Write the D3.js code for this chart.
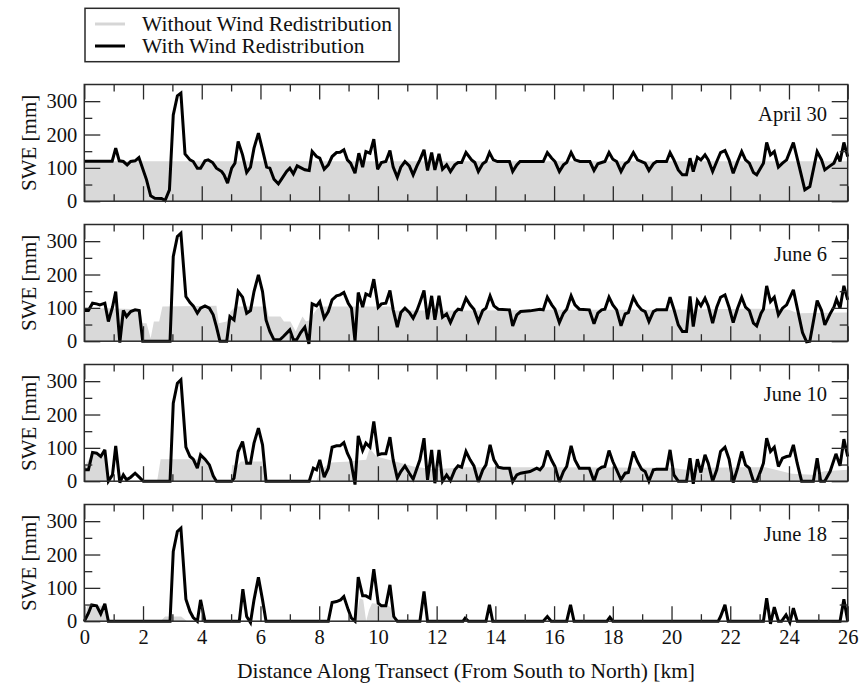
<!DOCTYPE html>
<html><head><meta charset="utf-8">
<script src="https://cdn.jsdelivr.net/npm/d3@7"></script>
<style>
body{margin:0;background:#fff}
svg{display:block}
text{font-family:"Liberation Serif","Times New Roman",serif;fill:#111}
</style>
</head><body><svg id="c" width="860" height="693"></svg>
<script>
// ---------- data ----------
const panelLabels = ["April 30", "June 6", "June 10", "June 18"];
const seriesNames = ["Without Wind Redistribution", "With Wind Redistribution"];
const xTickValues = [0,2,4,6,8,10,12,14,16,18,20,22,24,26];
const xMinorTicks = [1,3,5,7,9,11,13,15,17,19,21,23,25];
const yTickValues = [0,100,200,300];
const yMinorTicks = [50,150,250];

// [km, SWE mm]
const aprWithout = [[0,120],[26,120]];
const aprWith = [[0,120],[0.95,120],[1.07,159],[1.19,121],[1.33,119],[1.46,109],[1.58,119],[1.73,121],[1.86,131],[2.12,64],[2.26,16],[2.4,9],[2.63,8],[2.75,2],[2.9,34],[3.03,259],[3.17,316],[3.29,324],[3.43,142],[3.6,124],[3.71,119],[3.85,99],[3.96,99],[4.11,121],[4.22,124],[4.37,116],[4.5,99],[4.68,89],[4.76,79],[4.88,54],[5.02,99],[5.13,114],[5.24,179],[5.39,139],[5.53,86],[5.66,102],[5.78,159],[5.93,204],[6.07,154],[6.21,102],[6.32,99],[6.46,66],[6.61,52],[6.74,69],[6.89,89],[7.0,99],[7.12,82],[7.25,106],[7.4,99],[7.51,94],[7.66,92],[7.76,149],[7.91,134],[8.02,129],[8.17,96],[8.31,109],[8.44,134],[8.59,146],[8.71,147],[8.84,154],[8.96,124],[9.07,114],[9.22,84],[9.35,144],[9.48,102],[9.59,149],[9.73,144],[9.86,186],[9.99,96],[10.12,116],[10.27,119],[10.41,152],[10.52,102],[10.66,72],[10.78,102],[10.92,119],[11.07,106],[11.2,79],[11.33,106],[11.43,124],[11.57,154],[11.69,92],[11.83,146],[11.94,94],[12.08,142],[12.2,96],[12.34,109],[12.47,89],[12.62,109],[12.73,116],[12.85,116],[13.0,146],[13.19,124],[13.3,116],[13.42,89],[13.57,112],[13.68,119],[13.8,146],[13.93,124],[14.07,119],[14.48,119],[14.59,89],[14.73,109],[14.84,119],[15.63,119],[15.77,146],[15.92,129],[16.03,119],[16.18,89],[16.32,109],[16.43,116],[16.58,146],[16.71,124],[16.88,119],[17.22,119],[17.36,92],[17.49,112],[17.62,116],[17.73,119],[17.87,146],[18.0,126],[18.13,119],[18.28,89],[18.42,112],[18.53,119],[18.7,146],[18.84,124],[18.98,119],[19.1,114],[19.23,92],[19.38,112],[19.49,119],[19.83,119],[19.95,146],[20.08,124],[20.23,94],[20.37,79],[20.51,79],[20.63,129],[20.74,89],[20.88,132],[21.0,124],[21.14,139],[21.25,124],[21.4,89],[21.54,119],[21.67,146],[21.82,152],[21.96,124],[22.1,84],[22.25,119],[22.39,149],[22.52,124],[22.65,114],[22.79,86],[22.9,79],[23.05,102],[23.13,114],[23.24,176],[23.37,139],[23.5,149],[23.64,102],[23.78,114],[23.92,124],[24.15,176],[24.35,104],[24.54,34],[24.71,44],[24.96,149],[25.11,124],[25.22,94],[25.4,106],[25.53,114],[25.65,139],[25.74,119],[25.87,176],[26.0,134]];

const jun6Without = [[0,96],[0.7,99],[1.9,96],[1.98,54],[2.12,54],[2.26,9],[2.37,59],[2.55,59],[2.66,104],[4.5,106],[4.58,54],[4.85,59],[4.98,89],[5.15,104],[6.2,104],[6.28,74],[6.68,74],[6.8,59],[7.02,59],[7.2,29],[7.3,49],[7.43,74],[7.55,59],[7.72,64],[7.82,84],[7.94,99],[8.16,104],[10.4,104],[10.6,92],[12.8,92],[16,94],[20,94],[22.5,97],[23.5,97],[24.0,94],[24.3,84],[26,86]];
const jun6With = [[0,92],[0.14,92],[0.28,114],[0.42,112],[0.53,109],[0.7,114],[0.82,59],[0.96,102],[1.07,149],[1.21,-4],[1.33,92],[1.44,74],[1.58,89],[1.73,94],[1.87,92],[1.99,0],[2.92,0],[3.03,254],[3.17,314],[3.29,324],[3.46,134],[3.6,116],[3.71,106],[3.85,84],[3.96,99],[4.11,106],[4.26,99],[4.39,79],[4.5,44],[4.62,0],[4.85,0],[4.96,74],[5.1,64],[5.24,149],[5.39,132],[5.53,84],[5.66,92],[5.78,149],[5.93,199],[6.07,149],[6.19,64],[6.32,29],[6.46,4],[6.66,4],[6.78,14],[7.0,34],[7.12,4],[7.23,4],[7.37,26],[7.51,42],[7.65,-8],[7.76,112],[7.91,106],[8.02,119],[8.17,69],[8.31,89],[8.44,124],[8.59,136],[8.71,139],[8.84,146],[8.99,114],[9.1,99],[9.22,0],[9.33,146],[9.48,102],[9.59,142],[9.73,136],[9.86,186],[10.01,102],[10.12,112],[10.27,114],[10.41,152],[10.52,94],[10.66,42],[10.78,86],[10.92,99],[11.07,86],[11.2,69],[11.33,92],[11.43,116],[11.57,152],[11.69,66],[11.83,136],[11.94,64],[12.08,136],[12.2,72],[12.34,82],[12.47,56],[12.62,86],[12.73,96],[12.85,94],[13.0,129],[13.14,109],[13.27,96],[13.42,59],[13.57,92],[13.68,99],[13.82,136],[13.95,106],[14.1,96],[14.48,94],[14.59,46],[14.73,79],[14.86,89],[15.18,91],[15.52,96],[15.63,94],[15.77,132],[15.92,109],[16.03,96],[16.18,56],[16.32,84],[16.43,96],[16.58,136],[16.71,109],[16.86,96],[17.2,94],[17.36,52],[17.49,84],[17.62,94],[17.73,96],[17.87,132],[18.0,109],[18.13,94],[18.28,46],[18.42,82],[18.53,86],[18.7,132],[18.84,109],[18.98,94],[19.1,89],[19.23,59],[19.38,89],[19.49,94],[19.83,94],[19.95,132],[20.08,96],[20.23,49],[20.37,29],[20.51,29],[20.63,134],[20.74,44],[20.88,122],[21.0,106],[21.14,129],[21.25,106],[21.4,54],[21.54,102],[21.67,132],[21.82,139],[21.96,102],[22.1,56],[22.25,99],[22.39,132],[22.52,102],[22.65,92],[22.79,54],[22.9,46],[23.05,84],[23.13,96],[23.24,166],[23.37,119],[23.5,132],[23.64,79],[23.78,99],[23.92,109],[24.15,154],[24.32,84],[24.46,26],[24.6,-2],[24.71,0],[24.96,122],[25.11,92],[25.22,49],[25.4,82],[25.53,102],[25.62,126],[25.74,99],[25.87,166],[26.0,124]];

const jun10Without = [[0,44],[0.15,64],[0.28,79],[0.68,79],[0.84,0],[2.48,0],[2.6,66],[3.85,66],[3.96,94],[4.07,66],[4.25,54],[4.48,0],[4.98,0],[5.04,49],[5.2,44],[5.33,59],[6.05,59],[6.18,0],[7.9,0],[8.05,34],[8.39,56],[9.05,59],[9.3,62],[9.6,64],[9.72,99],[9.95,74],[10.6,59],[11.2,44],[11.9,36],[13,42],[16,42],[20,40],[20.5,34],[21,40],[22.5,42],[23.2,42],[24.1,22],[24.8,19],[25.2,30],[26,34]];
const jun10With = [[0,34],[0.14,34],[0.28,86],[0.42,84],[0.56,74],[0.7,94],[0.82,0],[0.96,19],[1.07,106],[1.21,-4],[1.33,19],[1.44,4],[1.58,12],[1.73,24],[1.87,12],[2.01,0],[2.92,0],[3.03,234],[3.17,294],[3.29,304],[3.46,102],[3.6,74],[3.71,66],[3.85,39],[3.96,79],[4.11,66],[4.26,49],[4.39,16],[4.5,0],[5.02,0],[5.1,9],[5.24,89],[5.39,119],[5.53,54],[5.66,54],[5.78,114],[5.93,159],[6.07,109],[6.19,0],[7.66,0],[7.8,39],[7.91,34],[8.02,64],[8.17,12],[8.31,39],[8.44,102],[8.59,106],[8.71,106],[8.84,116],[8.96,84],[9.07,64],[9.22,-10],[9.33,136],[9.48,92],[9.59,114],[9.73,102],[9.86,179],[10.01,79],[10.12,82],[10.27,82],[10.41,132],[10.52,64],[10.66,9],[10.78,29],[10.92,46],[11.07,24],[11.2,6],[11.35,44],[11.43,64],[11.57,129],[11.69,4],[11.83,94],[11.94,-6],[12.08,94],[12.2,0],[12.34,19],[12.47,2],[12.62,34],[12.73,46],[12.85,42],[13.0,89],[13.14,64],[13.27,46],[13.42,-2],[13.57,34],[13.68,49],[13.82,109],[13.95,64],[14.1,42],[14.27,39],[14.48,39],[14.59,-1],[14.73,19],[14.86,24],[15.18,29],[15.41,39],[15.52,34],[15.63,46],[15.77,92],[15.92,62],[16.03,44],[16.18,-2],[16.32,29],[16.43,44],[16.58,106],[16.71,64],[16.86,39],[17.2,39],[17.36,0],[17.49,34],[17.62,42],[17.73,44],[17.87,92],[18.0,59],[18.13,34],[18.28,4],[18.42,24],[18.53,26],[18.7,89],[18.84,59],[18.98,36],[19.1,29],[19.23,0],[19.38,34],[19.49,36],[19.83,36],[19.95,94],[20.08,19],[20.23,0],[20.51,0],[20.63,69],[20.74,-8],[20.88,66],[21.0,26],[21.14,79],[21.25,54],[21.4,0],[21.54,34],[21.67,89],[21.82,102],[21.96,66],[22.1,-4],[22.25,39],[22.39,89],[22.52,49],[22.65,39],[22.79,0],[22.9,0],[23.05,34],[23.13,54],[23.24,129],[23.37,89],[23.5,102],[23.64,44],[23.78,69],[23.92,74],[24.03,76],[24.15,109],[24.28,54],[24.43,0],[24.83,0],[24.96,69],[25.08,0],[25.22,0],[25.4,29],[25.6,82],[25.74,46],[25.87,126],[26.0,74]];

const jun18Without = [[0,0],[0.1,46],[0.7,46],[0.8,0],[2.6,0],[2.75,14],[3.3,14],[3.5,0],[9.25,0],[9.38,69],[9.5,64],[9.6,0],[9.7,34],[9.8,54],[10.3,49],[10.45,40],[10.58,0],[26,0]];
const jun18With = [[0,0],[0.14,24],[0.25,49],[0.42,46],[0.56,22],[0.7,52],[0.82,0],[2.92,0],[3.03,209],[3.17,269],[3.29,279],[3.46,66],[3.6,29],[3.71,11],[3.85,0],[3.96,64],[4.11,0],[5.28,0],[5.4,96],[5.53,14],[5.66,-4],[5.78,64],[5.93,132],[6.07,64],[6.19,0],[8.31,0],[8.44,56],[8.59,59],[8.73,64],[8.84,74],[8.99,34],[9.1,9],[9.22,0],[9.33,132],[9.48,76],[9.59,76],[9.73,69],[9.86,156],[10.01,54],[10.12,46],[10.27,46],[10.41,109],[10.54,14],[10.66,0],[11.43,0],[11.57,89],[11.69,0],[12.9,0],[12.97,9],[13.08,0],[13.68,0],[13.8,49],[13.91,0],[15.63,0],[15.77,14],[15.9,0],[16.43,0],[16.56,49],[16.68,0],[17.8,0],[17.9,12],[18.0,0],[21.59,0],[21.67,14],[21.82,49],[21.93,0],[23.13,0],[23.24,69],[23.37,-8],[23.5,42],[23.64,0],[23.75,0],[23.9,19],[24.03,-4],[24.15,39],[24.28,0],[25.74,0],[25.87,66],[26.0,0]];

const withoutSeries = [aprWithout, jun6Without, jun10Without, jun18Without];
const withSeries = [aprWith, jun6With, jun10With, jun18With];

// ---------- layout ----------
const L = 84.3, R = 847.7, T0 = 84.5, STEP = 140, PH = 116.7;
const INK = "#2a2a2a", GRAY = "#d9d9d9";
const svg = d3.select("#c");
const x = d3.scaleLinear().domain([0, 26]).range([L, R]);
const y = d3.scaleLinear().domain([0, 350]).range([PH, 0]);

panelLabels.forEach((lab, i) => {
  const g = svg.append("g").attr("transform", `translate(0,${T0 + i * STEP})`);
  const area = d3.area().x(d => x(d[0])).y0(y(0)).y1(d => y(Math.max(0, d[1])));
  g.append("path").datum(withoutSeries[i]).attr("d", area).attr("fill", GRAY);

  const line = d3.line().x(d => x(d[0])).y(d => y(d[1]));
  g.append("path").datum(withSeries[i]).attr("d", line)
    .attr("fill", "none").attr("stroke", "#000").attr("stroke-width", 3)
    .attr("stroke-linejoin", "miter").attr("stroke-miterlimit", 3);

  const style = sel => { sel.select(".domain").remove(); sel.selectAll("line").attr("stroke", INK).attr("stroke-width", 1.3); sel.selectAll("text").attr("font-family", "Liberation Serif, Times New Roman, serif").attr("fill", "#111"); };

  const bMaj = d3.axisBottom(x).tickValues(xTickValues).tickSize(-15).tickPadding(8);
  if (i < 3) bMaj.tickFormat("");
  g.append("g").attr("transform", `translate(0,${PH})`).call(bMaj).call(style).attr("font-size", 20.5);
  g.append("g").attr("transform", `translate(0,${PH})`).call(d3.axisBottom(x).tickValues(xMinorTicks).tickSize(-7).tickFormat("")).call(style);
  g.append("g").call(d3.axisTop(x).tickValues(xTickValues).tickSize(-15).tickFormat("")).call(style);
  g.append("g").call(d3.axisTop(x).tickValues(xMinorTicks).tickSize(-7).tickFormat("")).call(style);
  g.append("g").attr("transform", `translate(${L},0)`).call(d3.axisLeft(y).tickValues(yTickValues).tickSize(-16).tickPadding(7)).call(style).attr("font-size", 20.5);
  g.append("g").attr("transform", `translate(${L},0)`).call(d3.axisLeft(y).tickValues(yMinorTicks).tickSize(-8).tickFormat("")).call(style);
  g.append("g").attr("transform", `translate(${R},0)`).call(d3.axisRight(y).tickValues(yTickValues).tickSize(-16).tickFormat("")).call(style);
  g.append("g").attr("transform", `translate(${R},0)`).call(d3.axisRight(y).tickValues(yMinorTicks).tickSize(-8).tickFormat("")).call(style);

  g.append("rect").attr("x", L).attr("y", 0).attr("width", R - L).attr("height", PH)
    .attr("fill", "none").attr("stroke", INK).attr("stroke-width", 1.5);

  g.append("text").attr("x", 827).attr("y", 36).attr("text-anchor", "end")
    .attr("font-size", 20.5).text(lab);

  g.append("text").attr("transform", `translate(36,${PH / 2}) rotate(-90)`)
    .attr("text-anchor", "middle").attr("font-size", 21).text("SWE [mm]");
});

svg.append("text").attr("x", (L + R) / 2).attr("y", 678).attr("text-anchor", "middle")
  .attr("font-size", 21.5).text("Distance Along Transect (From South to North) [km]");

const lg = svg.append("g");
lg.append("rect").attr("x", 85).attr("y", 8.3).attr("width", 314).attr("height", 53.4)
  .attr("fill", "#fff").attr("stroke", INK).attr("stroke-width", 1.5);
const legColors = ["#d6d6d6", "#000"];
seriesNames.forEach((n, k) => {
  lg.append("line").attr("x1", 95).attr("x2", 125).attr("y1", 24 + k * 22).attr("y2", 24 + k * 22)
    .attr("stroke", legColors[k]).attr("stroke-width", 3);
  lg.append("text").attr("x", 142).attr("y", 31 + k * 22).attr("font-size", 21.5).text(n);
});
</script></body></html>
